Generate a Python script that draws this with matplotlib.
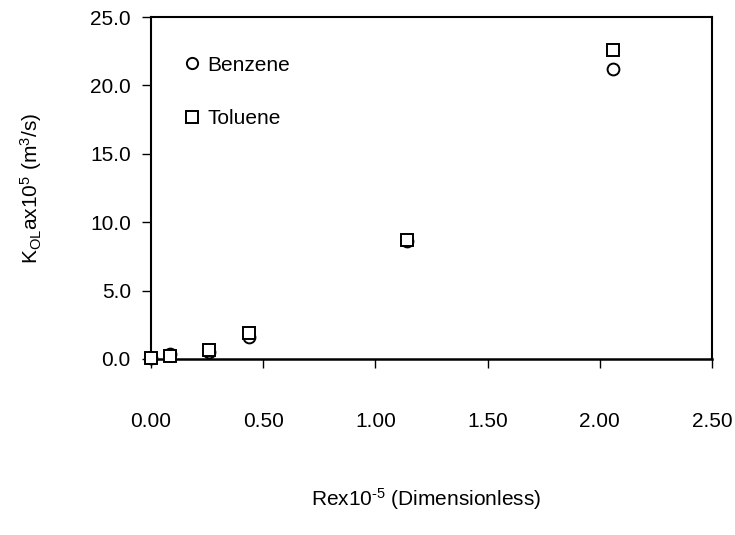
import matplotlib

matplotlib.use("Agg")
import matplotlib.pyplot as plt
from matplotlib.ticker import FormatStrFormatter, MultipleLocator

plt.rcParams["font.family"] = ["Liberation Sans", "DejaVu Sans"]
plt.rcParams["mathtext.fontset"] = "custom"
plt.rcParams["mathtext.rm"] = "Liberation Sans"
plt.rcParams["mathtext.it"] = "Liberation Sans"

# Reynolds number x 10^-5 and mass transfer coefficient K_OL a x 10^5 (m3/s)
re_x = [0.0, 0.085, 0.26, 0.435, 1.14, 2.06]
benzene_k = [0.05, 0.35, 0.5, 1.6, 8.6, 21.2]
toluene_k = [0.05, 0.2, 0.65, 1.9, 8.7, 22.6]

x_ticks = [0.0, 0.5, 1.0, 1.5, 2.0, 2.5]
y_ticks = [0.0, 5.0, 10.0, 15.0, 20.0, 25.0]

FS = 15

fig = plt.figure(figsize=(7.35, 5.35), dpi=100)
ax = fig.add_axes([0.2054, 0.329, 0.7633, 0.639])

ax.plot(re_x, benzene_k, linestyle="none", marker="o", markersize=8.5,
        markerfacecolor="white", markeredgecolor="black", markeredgewidth=1.4,
        label="Benzene", clip_on=False, zorder=3)
ax.plot(re_x, toluene_k, linestyle="none", marker="s", markersize=9,
        markerfacecolor="white", markeredgecolor="black", markeredgewidth=1.4,
        label="Toluene", clip_on=False, zorder=4)

ax.set_xlim(0, 2.5)
ax.set_ylim(0, 25)
ax.set_xticks(x_ticks)
ax.set_yticks(y_ticks)
ax.xaxis.set_major_formatter(FormatStrFormatter("%.2f"))
ax.yaxis.set_major_formatter(FormatStrFormatter("%.1f"))
ax.xaxis.set_minor_locator(MultipleLocator(10))

ax.tick_params(axis="x", direction="out", length=6.5, width=1.0, pad=32, labelsize=FS)
ax.tick_params(axis="y", direction="out", length=6.5, width=1.0, pad=8, labelsize=FS)

for side in ["left", "right", "top"]:
    ax.spines[side].set_linewidth(1.5)
ax.spines["bottom"].set_linewidth(1.8)

ax.set_ylabel(r"K$_{\mathrm{OL}}$ax10$^{5}$ (m$^{3}$/s)", fontsize=FS)
ax.yaxis.set_label_coords(-0.19, 0.5)
ax.set_xlabel(r"Rex10$^{\text{-5}}$ (Dimensionless)", fontsize=FS)
ax.xaxis.set_label_coords(0.49, -0.372)

ax.legend(loc="upper left", bbox_to_anchor=(0.032, 0.93), frameon=False,
          fontsize=FS, handlelength=0.8, handletextpad=0.35, labelspacing=1.65,
          borderpad=0.2, markerscale=0.95)

fig.savefig("out.png", dpi=100)
